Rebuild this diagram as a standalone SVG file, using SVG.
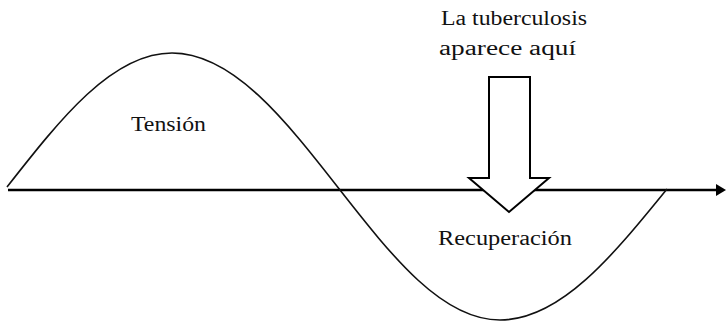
<svg xmlns="http://www.w3.org/2000/svg" width="726" height="323" viewBox="0 0 726 323">
<style>
text{font-family:"Liberation Serif","DejaVu Serif",serif;font-size:20px;fill:#111}
.curve{fill:none;stroke:#111;stroke-width:1.6}
.axis{fill:none;stroke:#000;stroke-width:2.5}
.bigarrow{fill:#fff;stroke:#000;stroke-width:2;stroke-linejoin:miter}
</style>
<defs>
<marker id="head" markerWidth="10" markerHeight="12" refX="0" refY="6" orient="auto" markerUnits="userSpaceOnUse">
<path d="M0,0 L10,6 L0,12 Z" fill="#000"/>
</marker>
</defs>
<g id="connectors">
<path id="axis" class="axis" d="M8,190 L716,190" marker-end="url(#head)"/>
<path id="wave" class="curve" d="M7,187 C60.8,118.4 112.3,53 172,53 C232.8,53 285.2,119.8 340,190 C392.2,256.6 442.1,320 500,320 C560.4,320 612.5,256.1 667,189"/>
</g>
<g id="arrow">
<path class="bigarrow" d="M489,77 L530,77 L530,178 L549,178 L509,212 L469,178 L489,178 Z"/>
</g>
<g id="label-tb">
<text x="441" y="25" textLength="146" lengthAdjust="spacingAndGlyphs">La tuberculosis</text>
<text x="439" y="55" textLength="137" lengthAdjust="spacingAndGlyphs">aparece aquí</text>
</g>
<g id="label-tension">
<text x="131" y="131" textLength="75" lengthAdjust="spacingAndGlyphs">Tensión</text>
</g>
<g id="label-recuperacion">
<text x="438" y="245" textLength="134" lengthAdjust="spacingAndGlyphs">Recuperación</text>
</g>
</svg>
